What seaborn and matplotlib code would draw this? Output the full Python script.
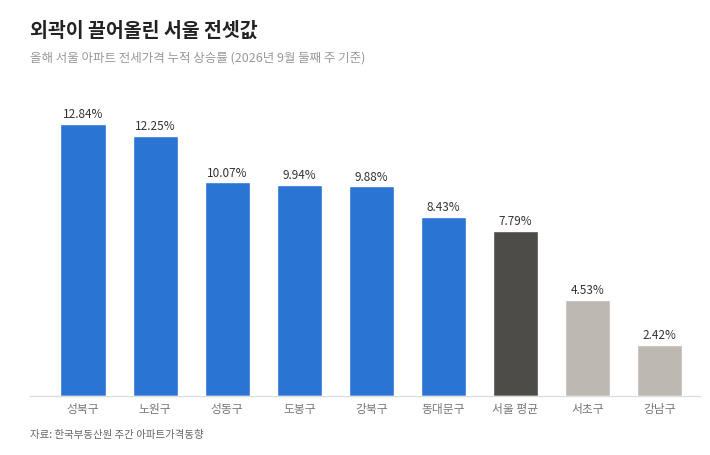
import matplotlib
matplotlib.use("Agg")
import matplotlib.pyplot as plt
import seaborn as sns
import pandas as pd

districts = ["성북구", "노원구", "성동구", "도봉구", "강북구", "동대문구", "서울 평균", "서초구", "강남구"]
rates = [12.84, 12.25, 10.07, 9.94, 9.88, 8.43, 7.79, 4.53, 2.42]
groups = ["up", "up", "up", "up", "up", "up", "avg", "low", "low"]
palette = {"up": "#2A74D4", "avg": "#4E4C48", "low": "#BDB9B2"}

df = pd.DataFrame({"district": districts, "rate": rates, "group": groups})

sns.set_theme(style="white")
plt.rcParams["font.family"] = ["Noto Sans CJK KR", "DejaVu Sans"]

fig = plt.figure(figsize=(7.1, 4.56), dpi=100)
ax = fig.add_axes([30 / 710, 59 / 456, 670 / 710, 297 / 456])

sns.barplot(data=df, x="district", y="rate", hue="group", palette=palette,
            dodge=False, width=0.625, saturation=1, legend=False, ax=ax)

for i, v in enumerate(rates):
    ax.text(i, v + 0.18, f"{v:.2f}%", ha="center", va="bottom",
            fontsize=8.5, color="#333333")

ax.set_xlim(-0.735, 8.56)
ax.set_ylim(0, 14)
ax.set_yticks([])
ax.set_xlabel("")
ax.set_ylabel("")
for s in ["top", "right", "left"]:
    ax.spines[s].set_visible(False)
ax.spines["bottom"].set_color("#DDDDDD")
ax.spines["bottom"].set_linewidth(1)
ax.tick_params(axis="x", length=0, pad=4, labelsize=8.5, labelcolor="#777777")

fig.text(30 / 710, 1 - 31 / 456, "외곽이 끌어올린 서울 전셋값", fontsize=14,
         fontweight="bold", color="#222222", va="center", ha="left")
fig.text(30 / 710, 1 - 58 / 456, "올해 서울 아파트 전세가격 누적 상승률 (2026년 9월 둘째 주 기준)",
         fontsize=9, color="#999999", va="center", ha="left")
fig.text(30 / 710, 1 - 435 / 456, "자료: 한국부동산원 주간 아파트가격동향",
         fontsize=7.5, color="#666666", va="center", ha="left")

fig.savefig("out.png", dpi=100, facecolor="white")
